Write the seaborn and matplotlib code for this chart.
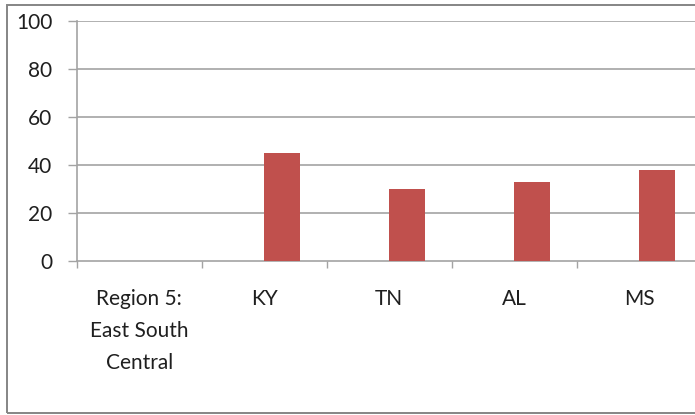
import matplotlib
matplotlib.use("Agg")
import matplotlib.pyplot as plt
from matplotlib.patches import Rectangle
import numpy as np
import pandas as pd
import seaborn as sns

# Data
categories = ["Region 5:\nEast South\nCentral", "KY", "TN", "AL", "MS"]
series_a = [0, 0, 0, 0, 0]
series_b = [np.nan, 45, 30, 33, 38]
y_ticks = [0, 20, 40, 60, 80, 100]

df = pd.DataFrame({
    "category": categories * 2,
    "series": ["A"] * len(categories) + ["B"] * len(categories),
    "value": series_a + series_b,
})

sns.set_theme(style="white")
plt.rcParams["font.family"] = ["Lato", "DejaVu Sans"]

W, H = 695, 415
fig = plt.figure(figsize=(W / 100, H / 100), dpi=100)

# plot area in pixel coordinates
left_px, right_px, top_px, bottom_px = 76.7, 701.7, 21, 261
ax = fig.add_axes([left_px / W, (H - bottom_px) / H,
                   (right_px - left_px) / W, (bottom_px - top_px) / H])

grid_color = "#a3a3a3"
text_color = "#1f1f1f"
bar_w = 2 / 3.5  # two series, gap width 150%

sns.barplot(data=df, x="category", y="value", hue="series",
            order=categories, hue_order=["A", "B"],
            palette={"A": "#4F81BD", "B": "#C0504D"},
            width=bar_w, gap=0, dodge=True, legend=False,
            linewidth=0, saturation=1, ax=ax, zorder=3)

ax.set_xlim(-0.5, len(categories) - 0.5)
ax.set_ylim(0, 100)
ax.set_yticks(y_ticks)
ax.set_xlabel("")
ax.set_ylabel("")

for y in y_ticks[1:]:
    ax.axhline(y, color=grid_color, lw=1.2, zorder=1)

for s in ["top", "right"]:
    ax.spines[s].set_visible(False)
for s in ["left", "bottom"]:
    ax.spines[s].set_color(grid_color)
    ax.spines[s].set_linewidth(1.2)

ax.tick_params(axis="y", which="major", left=True, length=6.5, width=1.0,
               color=grid_color, pad=11, labelsize=15, labelcolor=text_color)
ax.tick_params(axis="x", which="major", bottom=False, length=0, pad=20.5,
               labelsize=15, labelcolor=text_color)
ax.set_xticks(np.arange(-0.5, len(categories) + 0.5, 1.0), minor=True)
ax.tick_params(axis="x", which="minor", bottom=True, length=5, width=1.0,
               color=grid_color)
for lab in ax.get_xticklabels():
    lab.set_linespacing(1.72)
    lab.set_verticalalignment("top")

# chart-area border
fig.patches.append(Rectangle((7 / W, 2 / H), 1.0, (413 - 5) / H,
                             transform=fig.transFigure, fill=False,
                             edgecolor="#858585", linewidth=1.4, zorder=0))

fig.savefig("out.png", dpi=100)
